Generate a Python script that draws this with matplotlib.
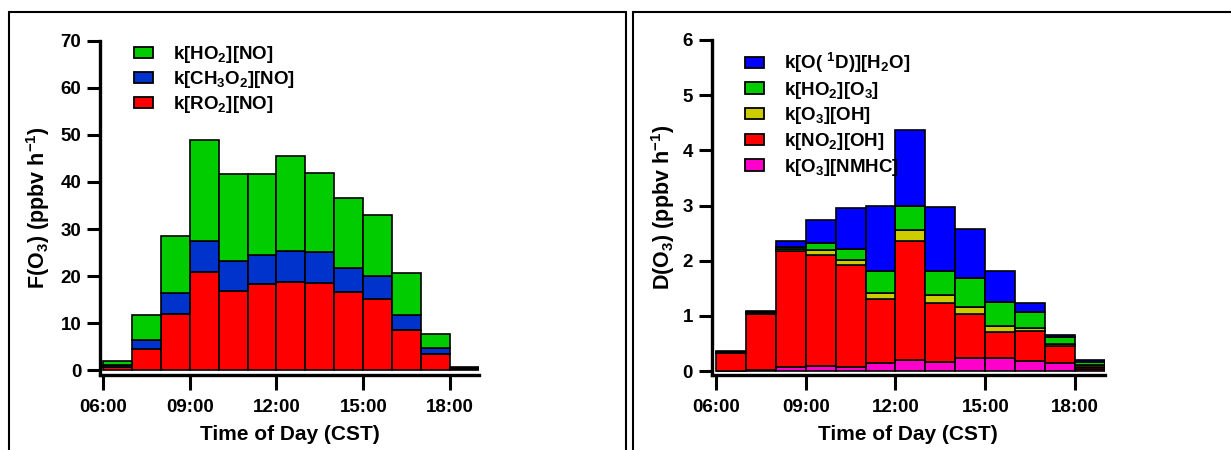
import matplotlib
matplotlib.use("Agg")
import matplotlib.pyplot as plt
from matplotlib.patches import Rectangle, Patch
import numpy as np

plt.rcParams['font.family'] = ['Liberation Sans', 'DejaVu Sans']
plt.rcParams['font.weight'] = 'bold'
plt.rcParams['mathtext.fontset'] = 'custom'
plt.rcParams['mathtext.rm'] = 'Liberation Sans:bold'
plt.rcParams['mathtext.bf'] = 'Liberation Sans:bold'
plt.rcParams['mathtext.it'] = 'Liberation Sans:bold'
plt.rcParams['mathtext.default'] = 'bf'

# ---------------- data ----------------
hours = [6, 7, 8, 9, 10, 11, 12, 13, 14, 15, 16, 17, 18]
tick_hours = [6, 9, 12, 15, 18]
tick_labels = ["06:00", "09:00", "12:00", "15:00", "18:00"]

# F(O3) production terms (ppbv h-1)
f_ro2_no = [0.7, 4.6, 12.0, 20.9, 16.9, 18.3, 18.8, 18.6, 16.6, 15.2, 8.6, 3.4, 0.3]
f_ch3o2_no = [0.4, 1.8, 4.4, 6.6, 6.3, 6.2, 6.6, 6.6, 5.2, 4.9, 3.1, 1.4, 0.2]
f_ho2_no = [0.9, 5.3, 12.2, 21.4, 18.5, 17.2, 20.2, 16.8, 14.8, 12.9, 9.0, 3.0, 0.2]

# D(O3) loss terms (ppbv h-1)
d_o3_nmhc = [0.01, 0.02, 0.07, 0.09, 0.08, 0.15, 0.21, 0.17, 0.23, 0.24, 0.19, 0.15, 0.03]
d_no2_oh = [0.31, 1.01, 2.11, 2.02, 1.84, 1.15, 2.15, 1.06, 0.80, 0.47, 0.54, 0.30, 0.04]
d_o3_oh = [0.01, 0.02, 0.03, 0.09, 0.10, 0.12, 0.20, 0.15, 0.13, 0.10, 0.06, 0.04, 0.04]
d_ho2_o3 = [0.01, 0.02, 0.04, 0.13, 0.20, 0.40, 0.43, 0.44, 0.53, 0.44, 0.28, 0.12, 0.05]
d_o1d_h2o = [0.02, 0.02, 0.11, 0.41, 0.74, 1.17, 1.38, 1.16, 0.88, 0.56, 0.16, 0.04, 0.05]

left_series = [
    (f_ro2_no, '#FF0000', r'k[RO$_2$][NO]'),
    (f_ch3o2_no, '#0033CC', r'k[CH$_3$O$_2$][NO]'),
    (f_ho2_no, '#00CC00', r'k[HO$_2$][NO]'),
]
right_series = [
    (d_o3_nmhc, '#FF00CC', r'k[O$_3$][NMHC]'),
    (d_no2_oh, '#FF0000', r'k[NO$_2$][OH]'),
    (d_o3_oh, '#CCCC00', r'k[O$_3$][OH]'),
    (d_ho2_o3, '#00CC00', r'k[HO$_2$][O$_3$]'),
    (d_o1d_h2o, '#0000FF', r'k[O( $^1$D)][H$_2$O]'),
]

W, H = 1231, 450
fig = plt.figure(figsize=(W / 100, H / 100), dpi=100)

# panel frames
fig.add_artist(Rectangle((9 / W, -0.1), (626 - 9) / W, 1.1 - 12 / H, transform=fig.transFigure,
                         fill=False, edgecolor='black', linewidth=1.5))
fig.add_artist(Rectangle((633 / W, -0.1), 0.5, 1.1 - 12 / H, transform=fig.transFigure,
                         fill=False, edgecolor='black', linewidth=1.5))


def make_panel(rect, xlim, series, ylim, yticks, ylabel, legend_anchor, ylabel_x, lspace):
    ax = fig.add_axes(rect)
    bottom = np.zeros(len(hours))
    handles = []
    for vals, color, label in series:
        v = np.array(vals)
        ax.bar(hours, v, width=1.0, align='edge', bottom=bottom, color=color,
               edgecolor='black', linewidth=1.2, zorder=2)
        bottom = bottom + v
        handles.append(Patch(facecolor=color, edgecolor='black', linewidth=1.3, label=label))
    ax.set_xlim(*xlim)
    ax.set_ylim(*ylim)
    ax.set_yticks(yticks)
    ax.set_xticks(tick_hours)
    ax.set_xticklabels(tick_labels)
    for s in ['top', 'right']:
        ax.spines[s].set_visible(False)
    for s in ['left', 'bottom']:
        ax.spines[s].set_linewidth(2.4)
    ax.tick_params(axis='y', direction='out', length=9.5, width=2.2, labelsize=13.5, pad=4)
    ax.tick_params(axis='x', direction='out', length=11, width=2.2, labelsize=13.5, pad=6)
    for lab in ax.get_xticklabels() + ax.get_yticklabels():
        lab.set_fontweight('bold')
    ax.set_xlabel('Time of Day (CST)', fontsize=15, fontweight='bold', labelpad=7)
    ax.set_ylabel(ylabel, fontsize=15.5, fontweight='bold')
    ax.yaxis.set_label_coords(ylabel_x, 0.5)
    ax.legend(handles=handles[::-1], loc='upper left', bbox_to_anchor=legend_anchor,
              frameon=False, fontsize=13.5, handlelength=1.0, handleheight=0.55,
              handletextpad=1.05, labelspacing=lspace, borderaxespad=0, borderpad=0)
    return ax


axL = make_panel([100 / W, 1 - 375 / H, (479 - 100) / W, (375 - 40.7) / H], (5.9, 19.0),
                 left_series, (-1, 70), list(range(0, 71, 10)), r'F(O$_3$) (ppbv h$^{-1}$)',
                 (0.09, 0.99), -0.127, 0.22)
axR = make_panel([711.7 / W, 1 - 375 / H, (1105 - 711.7) / W, (375 - 40) / H], (5.86, 19.0),
                 right_series, (-0.07, 6), list(range(0, 7)), r'D(O$_3$) (ppbv h$^{-1}$)',
                 (0.085, 0.968), -0.088, 0.25)

fig.savefig('out.png', dpi=100)
